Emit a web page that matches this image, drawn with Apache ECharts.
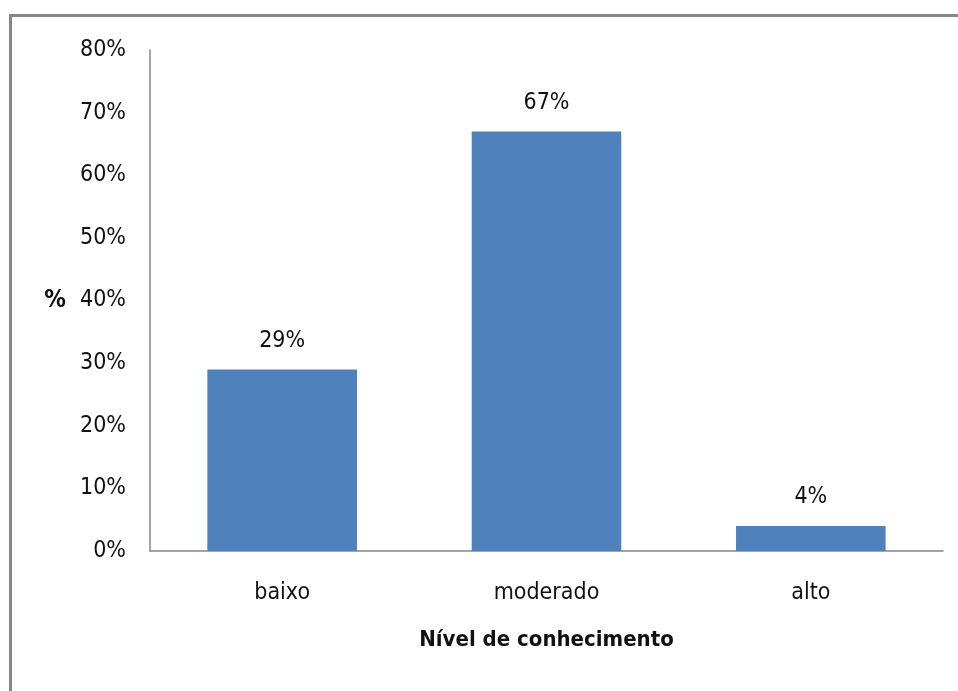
<!DOCTYPE html>
<html><head><meta charset="utf-8">
<script src="https://cdn.jsdelivr.net/npm/echarts@6/dist/echarts.min.js"></script>
<style>html,body{margin:0;padding:0;background:#fff}#c{width:958px;height:691px}</style>
</head><body><div id="c"></div>
<script>
const categories = ['baixo', 'moderado', 'alto'];
const values = [0.29, 0.67, 0.04];
const yTicks = [0, 0.1, 0.2, 0.3, 0.4, 0.5, 0.6, 0.7, 0.8];
const FONT = '"Liberation Sans Narrow", "DejaVu Sans Condensed", "Noto Sans", sans-serif';
const chart = echarts.init(document.getElementById('c'));
chart.setOption({
  animation: false,
  textStyle: { fontFamily: FONT },
  graphic: [{ type: 'rect', shape: { x: 10.5, y: 15.5, width: 1200, height: 1200 },
    style: { fill: 'none', stroke: '#878787', lineWidth: 3 }, silent: true }],
  grid: { left: 150, right: 15, top: 50, bottom: 140, containLabel: false },
  xAxis: {
    type: 'category', data: categories,
    axisLine: { lineStyle: { color: '#868686', width: 1.5 } },
    axisTick: { show: false },
    axisLabel: { color: '#111', fontSize: 23, margin: 31, fontFamily: FONT },
    name: 'Nível de conhecimento', nameLocation: 'middle', nameGap: 78,
    nameTextStyle: { color: '#111', fontSize: 22, fontWeight: 'bold', fontFamily: FONT }
  },
  yAxis: {
    type: 'value', min: yTicks[0], max: yTicks[yTicks.length - 1], interval: 0.1,
    splitLine: { show: false },
    axisLine: { show: true, lineStyle: { color: '#868686', width: 1.5 } },
    axisTick: { show: false },
    axisLabel: { color: '#111', fontSize: 23, margin: 24, fontFamily: FONT,
      formatter: v => Math.round(v * 100) + '%' },
    name: '%', nameLocation: 'middle', nameRotate: 0, nameGap: 84,
    nameTextStyle: { color: '#111', fontSize: 24, fontWeight: 'bold', fontFamily: FONT }
  },
  series: [{
    type: 'bar', data: values, barWidth: '56.6%',
    itemStyle: { color: '#4F81BD' },
    label: { show: true, position: 'top', distance: 17, color: '#111', fontSize: 23,
      fontFamily: FONT, formatter: p => Math.round(p.value * 100) + '%' }
  }]
});
</script></body></html>
